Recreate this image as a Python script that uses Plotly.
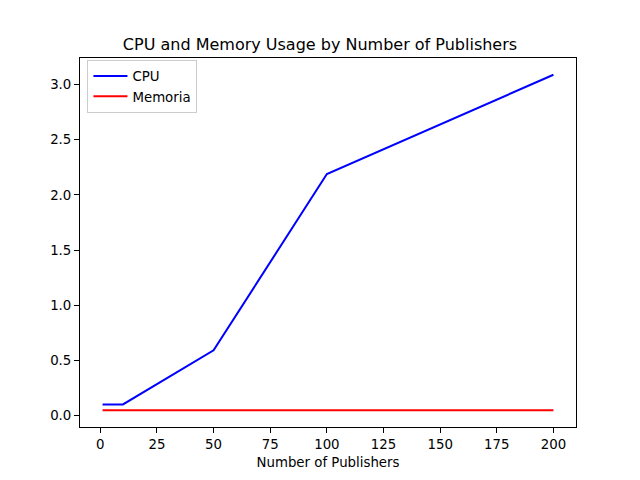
import plotly.graph_objects as go

publishers = [1, 10, 50, 100, 200]
cpu = [0.10, 0.10, 0.59, 2.19, 3.09]
memoria = [0.047, 0.047, 0.047, 0.047, 0.047]

xticks = [0, 25, 50, 75, 100, 125, 150, 175, 200]
yticks = [0.0, 0.5, 1.0, 1.5, 2.0, 2.5, 3.0]

fig = go.Figure()
fig.add_trace(go.Scatter(x=publishers, y=cpu, mode="lines", name="CPU",
                         line=dict(color="blue", width=2)))
fig.add_trace(go.Scatter(x=publishers, y=memoria, mode="lines", name="Memoria",
                         line=dict(color="red", width=2)))

axis_common = dict(showline=True, linecolor="black", linewidth=1, mirror=True,
                   ticks="outside", ticklen=5, tickwidth=1, tickcolor="black",
                   showgrid=False, zeroline=False,
                   tickfont=dict(family="DejaVu Sans", size=13.33, color="black"))

fig.update_layout(
    width=640, height=480,
    margin=dict(l=80, r=64, t=58, b=53),
    paper_bgcolor="white", plot_bgcolor="white",
    font=dict(family="DejaVu Sans", size=13.33, color="black"),
    title=dict(text="CPU and Memory Usage by Number of Publishers",
               x=0.5, xanchor="center", y=1 - 44/480, yanchor="middle",
               font=dict(family="DejaVu Sans", size=16, color="black")),
    xaxis=dict(range=[-8.95, 209.95], tickvals=xticks,
               ticktext=[str(v) for v in xticks],
               title=dict(text="Number of Publishers", standoff=6,
                          font=dict(family="DejaVu Sans", size=13.33, color="black")),
               **axis_common),
    yaxis=dict(range=[-0.105, 3.242], tickvals=yticks,
               ticktext=[f"{v:.1f}" for v in yticks], **axis_common),
    legend=dict(x=0.015, y=0.995, xanchor="left", yanchor="top",
                bgcolor="rgba(255,255,255,0.8)", bordercolor="#cccccc", borderwidth=1,
                itemwidth=34,
                font=dict(family="DejaVu Sans", size=13.33, color="black")),
    showlegend=True,
)

fig.write_html("out.html")
